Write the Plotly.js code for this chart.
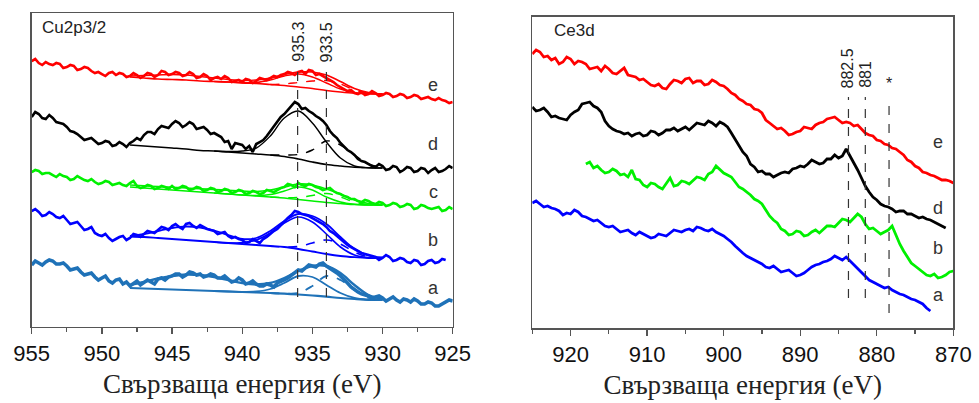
<!DOCTYPE html>
<html><head><meta charset="utf-8">
<script src="https://cdn.plot.ly/plotly-3.0.1.min.js"></script>
<style>html,body{margin:0;padding:0;background:#fff}#chart{width:979px;height:403px}</style>
</head><body><div id="chart"></div>
<script>
// ---------- Cu2p3/2 panel: values read at 955 -> 925 eV every 0.5 eV, plus the in-between readings ----------
var cu_e = [269,267,268,265,266,263,264,261,262,257, 256,257,255,256,254,255,254,256,255,258, 256,257,255,256,253,254,252,251,252,249, 248,250,249,251,252,253,256,257,258,256, 259,256,252,248,243,239,237,238,236,237, 235,236,234,235,233,234,232,231,232,229, 228];
var cu_e_mid = [271,265,266,267,262,265,260,263,259,258, 254,258,257,253,257,252,257,253,259,255, 258,254,258,252,256,250,253,254,248,250, 251,247,252,250,254,255,258,255,259,260, 255,254,250,245,241,240,236,235,239,234, 237,233,236,232,235,231,233,230,230,227];
var cu_d = [213,216,211,212,207,203,198,193,191,189, 187,188,185,186,187,192,195,198,201,203, 206,207,205,206,202,200,197,193,189,187, 185,184,186,190,199,208,216,224,226,222, 217,212,205,195,187,180,175,169,166,163, 164,161,163,160,162,159,161,160,158,161, 162];
var cu_d_mid = [218,212,215,208,206,199,196,190,192,186, 189,184,188,183,189,190,198,196,204,202, 209,203,208,201,203,196,195,188,181,186, 181,178,188,194,203,213,220,228,221,219, 214,209,199,192,183,178,171,168,164,166, 160,164,158,163,158,162,157,162,159,164];
var cu_c = [158,159,157,155,156,153,151,152,149,148, 147,148,146,145,147,144,143,144,142,143, 144,142,143,141,142,140,141,139,140,138, 139,137,138,137,139,140,143,145,147,144, 145,142,141,139,136,133,131,128,129,126, 127,125,126,124,125,122,124,121,123,120, 121];
var cu_c_mid = [160,156,157,153,154,150,154,150,151,146, 149,145,147,144,149,142,145,141,144,141, 141,144,140,143,139,142,138,141,137,140, 136,139,136,140,138,142,146,143,145,146, 143,140,142,137,134,131,129,130,127,128, 124,127,123,126,121,125,122,122,119,123];
var cu_b = [119,118,115,116,112,110,107,104,101,97, 94,92,91,94,92,95,96,98,100,102, 104,103,106,104,105,101,99,97,94,93, 90,88,89,91,96,101,108,115,118,115, 112,108,103,97,91,85,81,77,75,73, 72,73,70,71,67,69,66,70,68,70, null];
var cu_b_mid = [121,114,118,113,114,106,108,100,103,95, 96,89,93,90,96,93,99,97,103,100, 106,101,107,102,103,100,96,98,92,91, 87,91,87,93,99,105,112,119,116,114, 110,106,99,94,88,83,79,76,74,70, 75,69,72,68,70,65,69,67,71,null];
var cu_a = [65,67,68,69,66,64,61,58,56,53, 52,49,50,46,44,49,47,48,51,50, 54,56,55,57,56,54,55,52,51,49, 50,47,46,44,45,47,50,55,60,62, 64,66,64,60,54,47,40,36,34,33, 32,31,30,31,28,29,26,27,24,27, 29];
var cu_a_mid = [69,65,70,66,67,60,62,55,57,50, 54,47,51,48,46,45,50,46,52,53, 56,53,58,55,53,56,52,54,48,52, 46,49,44,46,43,49,52,58,59,65, 63,67,62,57,51,43,38,35,32,34, 29,33,28,30,31,26,28,24,26,30];

// fitted curves (baseline, envelope, main component, dashed component)
var fitStart = 948, pk1Start = 942, pk2Start = 938;
var e_base = [253,252,251,250.5,250,249,248.5,248,247,246.5,245.5,244.5,243,241.5,239.5,238,236.8,236.2,236];
var e_env  = [254,254.5,255,255.5,255,253.5,252,250.5,249.5,250,252,255.5,258,258,255,248.5,241.5,237.5,236];
var e_pk1  = [248.5,248,247.3,247.5,250,254,256,253,247,241,237.5,236.2,236];
var e_pk2  = [245.5,246,247.5,249,249.5,246,240,236.8,236];
var d_base = [185,184,183,182,181,179.5,179,178,177,176,175,173.5,171,168,165.5,164,162.8,162.2,162];
var d_pk1  = [179,178.5,179,182,194,212,219,207,188,172,164,162.2,162];
var d_pk2  = [175,175,175.5,180,189,185,175,166,162.5];
var c_base = [143,142,141,140,139,138,137,136,135,134,133,132,130.5,129,127.5,126.5,125.5,125,125];
var c_env  = [145,144.2,143.5,142.8,142,141.2,140.5,139.7,139,138.5,140,143,146,145,141,136,130,126.5,125.5];
var c_pk1  = [137,136,135,134.5,135.5,139,143,140,133,128,125.8,125,125];
var c_pk2  = [133,132.5,132.5,134.5,136.5,133,128,125.5,125];
var b_base = [93.5,93,92,91,90,89,88,87,86,85,84,83,81,78.5,76,74,72.8,72,71.8];
var b_env  = [94,96,99,102,103.5,102.5,99.5,95,91,92,99,109,116,114,106,93,81,74.5,72.5];
var b_pk1  = [88,87,87.5,90,97,107,113,108,96,83,75,72.3,71.8];
var b_pk2  = [84,83,83.5,87,90,86,78,73,72];
var a_base = [42,41.5,41,40.5,40,39.5,39,38.5,38,37.5,37,36.3,35.5,34.5,33.3,32,31,30.2,30];
var a_env  = [45,48,51.5,54,55.5,55,53,50,47,45.5,47,52,59,64,64,57,45,35,31];
var a_pk1  = [39,38.5,38,38.5,41,47,54,53,45,37,32,30.3,30];
var a_pk2  = [37,36.5,37,44,54,50,40,32,30.2];

// ---------- Ce3d panel: values read every 1 eV, plus the in-between readings ----------
var ce_e_start = 925;
var ce_e = [276,278,274,272,268,271,269,266,262,259, 261,256,262,254,250,248,244,242,246,249, 251,247,249,246,248,244,237,231,226,221, 217,207,201,199,196,199,202,205,208,212, 210,208,204,201,195,190,186,182,178,170, 164,158,155,152,150,147];
var ce_e_mid = [280,273,270,266,273,266,268,261,263,264, 257,259,255,253,251,245,246,241,250,247, 252,249,245,250,245,241,235,229,225,220, 210,204,202,195,198,203,201,207,211,213, 207,207,205,197,194,189,185,181,175,168, 162,157,154,150,149];
var ce_d_start = 925;
var ce_d = [223,220,218,214,211,215,220,227,224,218, 204,199,196,194,197,195,198,197,200,199, 203,204,206,209,204,206,197,184,174,163, 159,156,155,158,161,164,166,168,167,171, 172,181,168,152,138,130,124,121,119,116, 114,113,110,106,102];
var ce_d_mid = [219,222,213,212,210,218,226,228,222,209, 201,198,197,196,194,199,195,200,202,201, 200,207,205,207,208,203,191,178,166,158, 156,153,157,157,162,163,170,166,171,175, 174,174,160,144,133,126,123,118,119,116, 112,111,108,104];
var ce_b_start = 918;
var ce_b = [166,162,160,158,159,156,160,150,143,146, 141,152,145,148,150,152,156,164,157,153, 143,138,131,126,114,107,99,96,98,95, 100,101,104,107,110,112,113,101,99,98, 104,86,73,64,58,54,52,55,59];
var ce_b_mid = [168,164,157,161,155,153,151,145,147,143, 147,144,149,146,153,150,158,160,155,148, 141,135,129,120,110,101,95,99,94,98, 97,104,103,111,108,116,106,102,96,100, 95,79,67,61,55,56,53,58];
var ce_a_start = 925;
var ce_a = [127,126,124,121,115,116,118,113,109,107, 103,101,99,97,98,94,93,95,97,99, 100,99,102,99,98,94,88,80,74,70, 66,62,61,59,57,55,60,65,68,71, 72,73,66,58,50,46,42,40,36,33, 30,26,19];
var ce_a_mid = [129,123,122,119,117,120,114,111,110,104, 104,98,100,95,96,92,96,94,100,98, 101,103,100,101,96,91,84,77,72,68, 63,64,58,60,54,57,63,66,69,74, 70,69,62,53,48,44,43,38,35,31, 28,22];

// ---------- labels ----------
var curveLabels = ['e','d','c','b','a'];
var cuLabelY = [245,186,138,90,42];
var ceLabels = ['e','d','b','a'];
var ceLabelY = [188,122,82,35];
var cuMarkPos = [936.05, 934.0];
var cuMarkText = ['935.3','933.5'];
var ceMarkPos = [883.7, 881.5, 878.4];
var ceMarkText = ['882.5','881','*'];
var xTitle = 'Свързваща енергия (eV)';

// ---------- build ----------
function merge(o, m){ var r=[]; for(var i=0;i<o.length;i++){ r.push(o[i]); if(i<m.length) r.push(m[i]); } return r; }
function energies(start, step, n){ var r=[]; for(var i=0;i<n;i++) r.push(+(start - i*step).toFixed(3)); return r; }

var RED='#ff0000', BLK='#000000', GRN='#00f000', BLU='#0000ff', LBL='#1f72b8';
var traces = [];
function data(start, step, o, m, color, w, xa, ya){
  var y = merge(o, m);
  traces.push({x:energies(start, step, y.length), y:y, type:'scatter', mode:'lines', line:{color:color,width:w}, xaxis:xa, yaxis:ya, hoverinfo:'skip', connectgaps:false});
}
function fit(start, y, color, w, dash){
  traces.push({x:energies(start, 1, y.length), y:y, type:'scatter', mode:'lines', line:{color:color,width:w,dash:dash||'solid',shape:'spline'}, xaxis:'x', yaxis:'y', hoverinfo:'skip'});
}

fit(fitStart,e_base,RED,1.6); fit(fitStart,e_env,RED,1.6); fit(pk1Start,e_pk1,RED,1.4); fit(pk2Start,e_pk2,RED,1.4,'dash');
fit(fitStart,d_base,BLK,1.6); fit(pk1Start,d_pk1,BLK,1.4); fit(pk2Start,d_pk2,BLK,1.4,'dash');
fit(fitStart,c_base,GRN,1.6); fit(fitStart,c_env,GRN,1.6); fit(pk1Start,c_pk1,GRN,1.4); fit(pk2Start,c_pk2,GRN,1.4,'dash');
fit(fitStart,b_base,BLU,1.8); fit(fitStart,b_env,BLU,1.8); fit(pk1Start,b_pk1,BLU,1.6); fit(pk2Start,b_pk2,BLU,1.6,'dash');
fit(fitStart,a_base,LBL,2.2); fit(fitStart,a_env,LBL,2.4); fit(pk1Start,a_pk1,LBL,1.8); fit(pk2Start,a_pk2,LBL,1.8,'dash');

data(955,0.25,cu_e,cu_e_mid,RED,2.6,'x','y');
data(955,0.25,cu_d,cu_d_mid,BLK,2.6,'x','y');
data(955,0.25,cu_c,cu_c_mid,GRN,2.6,'x','y');
data(955,0.25,cu_b,cu_b_mid,BLU,2.6,'x','y');
data(955,0.25,cu_a,cu_a_mid,LBL,3.5,'x','y');

data(ce_e_start,0.5,ce_e,ce_e_mid,RED,2.8,'x2','y2');
data(ce_d_start,0.5,ce_d,ce_d_mid,BLK,2.8,'x2','y2');
data(ce_b_start,0.5,ce_b,ce_b_mid,GRN,2.8,'x2','y2');
data(ce_a_start,0.5,ce_a,ce_a_mid,BLU,2.8,'x2','y2');

var shapes=[], ann=[];
var smallFont = {family:'Liberation Sans, Arial', size:16, color:'#222'};
cuMarkPos.forEach(function(p,i){
  shapes.push({type:'line',xref:'x',yref:'y',x0:p,x1:p,y0:33,y1:265,line:{color:'#333',width:1.2,dash:'dash'}});
  ann.push({xref:'x',yref:'y',x:p,y:266,text:cuMarkText[i],textangle:-90,showarrow:false,xanchor:'center',yanchor:'bottom',font:smallFont});
});
ceMarkPos.forEach(function(p,i){
  shapes.push({type:'line',xref:'x2',yref:'y2',x0:p,x1:p,y0:(i==2?17:32),y1:233,line:{color:'#333',width:1.2,dash:'dash'}});
  ann.push({xref:'x2',yref:'y2',x:p,y:(i==2?236:240),text:ceMarkText[i],textangle:(i==2?0:-90),showarrow:false,xanchor:'center',yanchor:'bottom',font:smallFont});
});
curveLabels.forEach(function(t,i){
  ann.push({xref:'x',yref:'y',x:926.4,y:cuLabelY[i],text:t,showarrow:false,font:{family:'Liberation Sans, Arial',size:18,color:'#333'}});
});
ceLabels.forEach(function(t,i){
  ann.push({xref:'x2',yref:'y2',x:872.0,y:ceLabelY[i],text:t,showarrow:false,font:{family:'Liberation Sans, Arial',size:18,color:'#333'}});
});
ann.push({xref:'paper',yref:'paper',x:40/979,y:1-28/403,xanchor:'left',yanchor:'middle',text:'Cu2p3/2',showarrow:false,font:{family:'Liberation Sans, Arial',size:17,color:'#222'}});
ann.push({xref:'paper',yref:'paper',x:552/979,y:1-30/403,xanchor:'left',yanchor:'middle',text:'Ce3d',showarrow:false,font:{family:'Liberation Sans, Arial',size:17,color:'#222'}});

function xax(domain, range, dtick, tick0, minor, anchor){
  return {domain:domain, range:range, anchor:anchor, showline:true, mirror:true, linecolor:'#555', linewidth:1.5,
    ticks:'outside', ticklen:6, tickwidth:1.3, tickcolor:'#555', dtick:dtick, tick0:tick0,
    minor:{dtick:minor, tick0:tick0, ticks:'outside', ticklen:4, tickwidth:1.2, tickcolor:'#555'},
    tickfont:{family:'Liberation Sans, Arial', size:22, color:'#111'}, showgrid:false, zeroline:false,
    title:{text:xTitle, font:{family:'Liberation Serif, Times New Roman', size:27, color:'#222'}, standoff:9}};
}
function yax(domain, range, anchor){
  return {domain:domain, range:range, anchor:anchor, showline:true, mirror:true, linecolor:'#555', linewidth:1.5,
    showticklabels:false, ticks:'', showgrid:false, zeroline:false, fixedrange:true};
}
var layout = {
  width:979, height:403, margin:{l:0,r:0,t:0,b:0}, paper_bgcolor:'#fff', plot_bgcolor:'#fff', showlegend:false,
  xaxis: xax([0.0324,0.4624],[955,925],5,925,2.5,'y'),
  yaxis: yax([0.1886,0.9677],[3,317],'x'),
  xaxis2: xax([0.5437,0.9738],[925,870],10,870,5,'y2'),
  yaxis2: yax([0.1861,0.9586],[2,313.3],'x2'),
  shapes:shapes, annotations:ann
};
Plotly.newPlot('chart', traces, layout, {staticPlot:true, displayModeBar:false});
</script></body></html>
